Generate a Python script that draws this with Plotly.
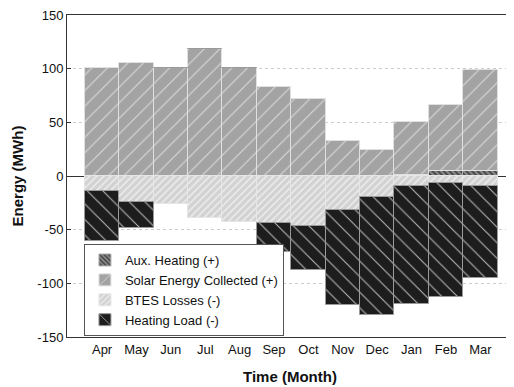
import plotly.graph_objects as go

months = ["Apr", "May", "Jun", "Jul", "Aug", "Sep", "Oct", "Nov", "Dec", "Jan", "Feb", "Mar"]
aux_heating = [0, 0, 0, 0, 0, 0, 0, 0, 0, 0.8, 4.5, 4.5]
solar_collected = [100.5, 105.5, 100.5, 118.5, 101, 83, 72, 33, 24.5, 49.2, 62, 94.5]
btes_losses = [-14, -24, -26.5, -38.8, -42.5, -43.5, -46.6, -32, -19.5, -9.7, -6.6, -9]
heating_load = [-47, -24, 0, 0, 0, -27, -41, -88, -110, -109.5, -106.5, -86]

yticks = [-150, -100, -50, 0, 50, 100, 150]

fig = go.Figure()

def add(name, vals, bg, fg, shape, size, sol, line_col):
    fig.add_trace(go.Bar(
        x=months, y=vals, name=name, width=1,
        marker=dict(color=bg,
                    line=dict(color=line_col, width=1),
                    pattern=dict(shape=shape, bgcolor=bg, fgcolor=fg,
                                 size=size, solidity=sol, fillmode="replace")),
    ))

add("Aux. Heating (+)", aux_heating, "#8a8a8a", "#3a3a3a", "\\", 4, 0.4, "#b0b0b0")
add("Solar Energy Collected (+)", solar_collected, "#a3a3a3", "#dadada", "/", 11, 0.1, "#e0e0e0")
add("BTES Losses (-)", btes_losses, "#d2d2d2", "#ededed", "/", 5, 0.3, "#e6e6e6")
add("Heating Load (-)", heating_load, "#1d1d1d", "#b4b4b4", "\\", 11, 0.1, "#9a9a9a")

# The page body has an 8px default margin, so the figure is sized and
# positioned to compensate for it.
fig.update_layout(
    width=506, height=379,
    margin=dict(l=59, r=1, t=7, b=50),
    barmode="relative", bargap=0,
    paper_bgcolor="white", plot_bgcolor="white",
    font=dict(family="Liberation Sans, Arial, sans-serif", size=13, color="#111"),
    showlegend=True,
    legend=dict(x=0.038, y=0.003, xanchor="left", yanchor="bottom",
                bgcolor="white", bordercolor="#555", borderwidth=1,
                font=dict(size=13), traceorder="normal",
                tracegroupgap=0, itemwidth=30),
    xaxis=dict(
        range=[-1.02, 11.95], showgrid=False, zeroline=False,
        showline=True, linecolor="#333", linewidth=1, mirror=True,
        ticks="", tickfont=dict(size=13),
        title=dict(text="<b>Time (Month)</b>", font=dict(size=15), standoff=15),
    ),
    yaxis=dict(
        range=[-150, 150], tickvals=yticks, ticktext=[str(v) for v in yticks],
        showgrid=True, gridcolor="#cccccc", griddash="dot", gridwidth=1,
        zeroline=True, zerolinecolor="#333", zerolinewidth=1,
        showline=True, linecolor="#333", linewidth=1, mirror="ticks",
        ticks="inside", ticklen=4, tickcolor="#333", tickfont=dict(size=13),
        ticklabeloverflow="allow",
        title=dict(text="<b>Energy (MWh)</b>", font=dict(size=15), standoff=10),
    ),
)

fig.write_html("out.html")
